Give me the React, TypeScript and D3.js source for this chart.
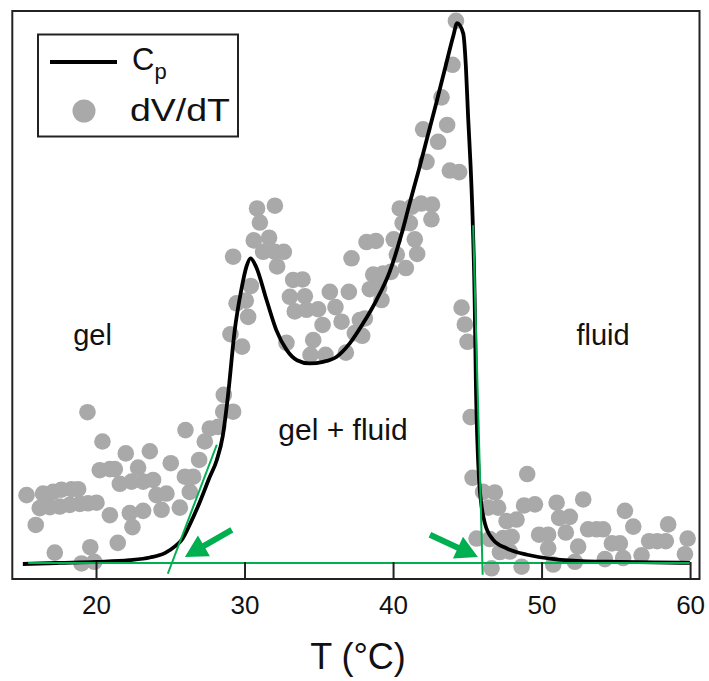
import React from 'react';
import * as d3 from 'd3';

// Cp trace (T in °C, normalized heat capacity)
const cpT = [15.04, 17.5, 20.0, 22.2, 23.6, 24.6, 25.3, 25.75, 26.3, 26.95, 27.6, 28.1, 28.5, 28.85, 29.3, 29.75, 30.1, 30.37, 30.75, 31.45, 32.1, 32.8, 33.5, 34.35, 35.25, 36.15, 37.05, 37.95, 38.85, 39.75, 40.5, 41.1, 41.7, 42.3, 42.9, 43.5, 44.03, 44.28, 44.69, 44.87, 45.02, 45.19, 45.32, 45.46, 45.54, 45.76, 45.93, 46.15, 46.7, 47.6, 49.0, 50.8, 53.0, 55.2, 57.5, 59.95];
const cpV = [0.0, 0.002, 0.004, 0.007, 0.012, 0.02, 0.033, 0.045, 0.074, 0.114, 0.159, 0.192, 0.236, 0.31, 0.43, 0.506, 0.549, 0.564, 0.548, 0.487, 0.432, 0.395, 0.376, 0.37, 0.373, 0.382, 0.407, 0.444, 0.487, 0.54, 0.605, 0.667, 0.727, 0.79, 0.853, 0.918, 0.975, 0.998, 0.979, 0.918, 0.825, 0.733, 0.641, 0.49, 0.34, 0.155, 0.106, 0.075, 0.045, 0.029, 0.017, 0.009, 0.005, 0.004, 0.003, 0.002];

// dV/dT scatter
const dvT = [15.29, 15.91, 16.18, 16.4, 16.86, 17.08, 17.19, 17.53, 17.64, 18.2, 18.32, 18.76, 18.88, 18.99, 19.39, 19.43, 19.58, 19.85, 20.0, 20.22, 20.4, 20.9, 20.9, 21.23, 21.43, 21.57, 21.97, 22.24, 22.36, 22.42, 22.8, 23.14, 23.14, 23.59, 23.81, 24.04, 24.38, 24.71, 25.0, 25.61, 25.95, 25.99, 26.28, 26.51, 26.91, 27.29, 27.63, 28.19, 28.53, 28.57, 29.2, 29.02, 29.2, 29.43, 29.8, 30.05, 30.21, 30.39, 30.59, 30.81, 31.0, 31.22, 31.62, 32.01, 32.01, 32.16, 32.61, 32.79, 33.02, 33.24, 33.35, 33.87, 34.03, 34.14, 34.41, 34.59, 34.92, 35.22, 35.42, 35.71, 36.09, 36.5, 36.79, 36.99, 37.17, 37.39, 37.73, 37.89, 38.07, 38.18, 38.4, 38.63, 38.81, 39.03, 39.19, 39.3, 39.82, 40.01, 40.22, 40.42, 40.61, 40.83, 41.1, 41.21, 41.43, 41.59, 41.86, 41.99, 42.22, 42.55, 42.59, 43.0, 43.23, 43.61, 43.79, 43.97, 44.2, 44.42, 44.58, 44.8, 44.98, 45.19, 45.32, 45.59, 46.03, 46.37, 46.48, 46.6, 46.82, 47.04, 47.16, 47.38, 47.61, 47.83, 47.95, 48.28, 48.62, 48.79, 49.0, 49.52, 49.8, 50.41, 50.41, 50.75, 50.98, 51.15, 51.6, 51.87, 52.21, 52.43, 52.77, 53.1, 53.67, 54.11, 54.23, 54.7, 55.24, 55.46, 55.58, 56.14, 56.7, 57.21, 57.75, 58.33, 58.49, 59.62, 59.8];
const dvV = [0.127, 0.072, 0.103, 0.13, 0.105, 0.133, 0.021, 0.106, 0.137, 0.109, 0.138, 0.138, 0.111, 0.001, 0.28, 0.112, 0.031, 0.004, 0.113, 0.173, 0.226, 0.175, 0.09, 0.175, 0.039, 0.148, 0.204, 0.094, 0.152, 0.068, 0.178, 0.152, 0.098, 0.208, 0.155, 0.127, 0.1, 0.13, 0.186, 0.104, 0.161, 0.247, 0.133, 0.161, 0.192, 0.226, 0.25, 0.253, 0.281, 0.312, 0.281, 0.424, 0.567, 0.481, 0.401, 0.486, 0.456, 0.513, 0.597, 0.656, 0.63, 0.576, 0.602, 0.661, 0.576, 0.549, 0.576, 0.408, 0.493, 0.524, 0.466, 0.525, 0.494, 0.469, 0.386, 0.413, 0.47, 0.441, 0.386, 0.502, 0.474, 0.447, 0.39, 0.502, 0.564, 0.426, 0.45, 0.421, 0.453, 0.594, 0.507, 0.534, 0.596, 0.51, 0.487, 0.536, 0.539, 0.599, 0.571, 0.656, 0.629, 0.546, 0.629, 0.659, 0.599, 0.572, 0.665, 0.802, 0.742, 0.636, 0.663, 0.779, 0.861, 0.81, 0.726, 0.921, 1.002, 0.723, 0.473, 0.442, 0.41, 0.271, 0.159, 0.047, 0.133, 0.104, 0.046, -0.008, 0.132, 0.104, 0.022, 0.048, 0.079, 0.023, 0.05, 0.082, -0.005, 0.108, 0.166, 0.11, 0.054, 0.054, 0.029, -0.001, 0.113, 0.085, 0.058, 0.087, 0.004, 0.032, 0.119, 0.064, 0.064, 0.064, 0.009, 0.038, 0.038, 0.011, 0.098, 0.069, 0.016, 0.042, 0.042, 0.042, 0.073, 0.018, 0.047];

const xTicks = [20, 30, 40, 50, 60];

// green guide lines: baseline and two tangents, [T1, v1, T2, v2]
const guides = [
  [15.4, 0.002, 60.0, 0.002],
  [24.8, -0.018, 28.1, 0.22],
  [45.36, 0.625, 46.0, -0.02],
];
// arrows: [tailT, tailV, tipT, tipV]
const arrows = [
  [29.11, 0.063, 25.95, 0.013],
  [42.45, 0.054, 45.68, 0.013],
];

const W = 709;
const H = 681;
const GREEN = '#00b050';
const GRAY = '#a9a9a9';
const FONT = 'Liberation Sans, Arial, sans-serif';

export default function App() {
  const x = d3.scaleLinear().domain([14.33, 60.6]).range([12.3, 699.5]);
  const y = d3.scaleLinear().domain([-0.0277, 1.0203]).range([579, 11]);

  const line = d3.line<number>()
    .x((_, i) => x(cpT[i]))
    .y((_, i) => y(cpV[i]))
    .curve(d3.curveMonotoneX);

  const arrowPath = (a: number[]) => {
    const x1 = x(a[0]), y1 = y(a[1]), x2 = x(a[2]), y2 = y(a[3]);
    const ang = Math.atan2(y2 - y1, x2 - x1);
    const head = 22, hw = 12, sw = 3;
    const bx = x2 - head * Math.cos(ang), by = y2 - head * Math.sin(ang);
    const px = -Math.sin(ang), py = Math.cos(ang);
    const pts = [
      [x1 + px * sw, y1 + py * sw],
      [bx + px * sw, by + py * sw],
      [bx + px * hw, by + py * hw],
      [x2, y2],
      [bx - px * hw, by - py * hw],
      [bx - px * sw, by - py * sw],
      [x1 - px * sw, y1 - py * sw],
    ];
    return 'M' + pts.map(p => p.join(',')).join('L') + 'Z';
  };

  return (
    <svg width={W} height={H} style={{ position: 'absolute', left: 0, top: 0, background: '#fff' }} fontFamily={FONT}>
      {/* dV/dT dots */}
      {dvT.map((t, i) => (
        <circle key={i} cx={x(t)} cy={y(dvV[i])} r={8.3} fill={GRAY} />
      ))}

      {/* Cp curve */}
      <path d={line(cpT) || ''} fill="none" stroke="#000" strokeWidth={3.8} strokeLinejoin="round" />

      {/* green guides */}
      {guides.map((g, i) => (
        <line key={i} x1={x(g[0])} y1={y(g[1])} x2={x(g[2])} y2={y(g[3])} stroke={GREEN} strokeWidth={2} />
      ))}
      {arrows.map((a, i) => (
        <path key={i} d={arrowPath(a)} fill={GREEN} />
      ))}

      {/* frame */}
      <rect x={12.3} y={11} width={687.2} height={568} fill="none" stroke="#222" strokeWidth={2} />

      {/* ticks */}
      {xTicks.map(t => (
        <g key={t}>
          <line x1={x(t)} x2={x(t)} y1={579} y2={562} stroke="#222" strokeWidth={2} />
          <text x={x(t)} y={614} textAnchor="middle" fontSize={26} fill="#111">{t}</text>
        </g>
      ))}
      <text x={358} y={669} textAnchor="middle" fontSize={36} fill="#111">T (°C)</text>

      {/* region labels */}
      <text x={92.5} y={345} textAnchor="middle" fontSize={29} fill="#111">gel</text>
      <text x={603} y={345} textAnchor="middle" fontSize={29} fill="#111">fluid</text>
      <text x={343} y={440} textAnchor="middle" fontSize={30} fill="#111">gel + fluid</text>

      {/* legend */}
      <rect x={38} y={34.5} width={200} height={102} fill="#fff" stroke="#222" strokeWidth={2} />
      <line x1={50} x2={117} y1={62} y2={62} stroke="#000" strokeWidth={4} />
      <text x={132} y={70} fontSize={31} fill="#111">C<tspan fontSize={22} dy={9}>p</tspan></text>
      <circle cx={84} cy={111} r={11.5} fill={GRAY} />
      <text x={130} y={121} fontSize={31} fill="#111" textLength={100} lengthAdjust="spacingAndGlyphs">dV/dT</text>
    </svg>
  );
}
